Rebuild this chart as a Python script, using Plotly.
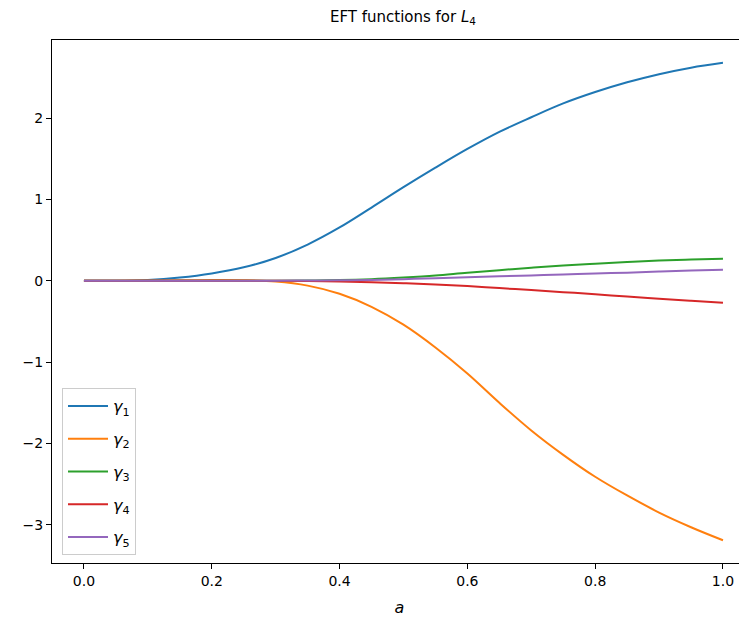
import plotly.graph_objects as go

a = [0.0, 0.05, 0.1, 0.15, 0.2, 0.25, 0.3, 0.35, 0.4, 0.45, 0.5,
     0.55, 0.6, 0.65, 0.7, 0.75, 0.8, 0.85, 0.9, 0.95, 1.0]
gamma1 = [0.0, 0.0, 0.01, 0.04, 0.09, 0.165, 0.28, 0.445, 0.655, 0.90, 1.15,
          1.39, 1.62, 1.83, 2.01, 2.18, 2.32, 2.44, 2.54, 2.62, 2.68]
gamma2 = [0.0, 0.0, 0.003, 0.006, 0.008, 0.006, -0.01, -0.06, -0.16, -0.32, -0.54,
          -0.82, -1.14, -1.50, -1.84, -2.14, -2.41, -2.64, -2.85, -3.03, -3.19]
gamma3 = [0.0, 0.0, 0.0, 0.0, 0.0, 0.0, 0.0, 0.003, 0.008, 0.02, 0.04,
          0.065, 0.10, 0.13, 0.16, 0.188, 0.21, 0.23, 0.248, 0.26, 0.27]
gamma4 = [0.0, 0.0, 0.0, 0.0, 0.0, 0.0, 0.0, -0.003, -0.008, -0.017, -0.03,
          -0.045, -0.065, -0.09, -0.115, -0.14, -0.165, -0.195, -0.22, -0.245, -0.27]
gamma5 = [0.0, 0.0, 0.0, 0.0, 0.0, 0.0, 0.0, 0.003, 0.006, 0.01, 0.02,
          0.03, 0.042, 0.055, 0.066, 0.077, 0.09, 0.10, 0.113, 0.125, 0.135]

series = [
    ("<i>γ</i><sub>1</sub>", gamma1, "#1f77b4"),
    ("<i>γ</i><sub>2</sub>", gamma2, "#ff7f0e"),
    ("<i>γ</i><sub>3</sub>", gamma3, "#2ca02c"),
    ("<i>γ</i><sub>4</sub>", gamma4, "#d62728"),
    ("<i>γ</i><sub>5</sub>", gamma5, "#9467bd"),
]

W, H = 739, 616
fig = go.Figure()
for i, (name, ys, col) in enumerate(series):
    fig.add_trace(go.Scatter(x=a, y=ys, mode="lines", name=name, legendgroup=f"g{i}",
                             line=dict(color=col, width=2, shape="spline", smoothing=1.0)))

fig.update_layout(
    width=W, height=H,
    margin=dict(l=44, r=0, t=32, b=61, autoexpand=False),
    paper_bgcolor="white", plot_bgcolor="white",
    font=dict(family="DejaVu Sans", size=14, color="black"),
    title=dict(text="EFT functions for <i>L</i><sub>4</sub>", x=395/W, xanchor="center",
               y=1 - 9/H, yanchor="middle", font=dict(size=15)),
    showlegend=True,
    legend=dict(x=10/695, y=8/523, xanchor="left", yanchor="bottom",
                bordercolor="#cccccc", borderwidth=1, bgcolor="rgba(255,255,255,0.8)",
                font=dict(size=16), itemwidth=40, tracegroupgap=9),
    xaxis=dict(range=[-0.05, 1.0376], tickmode="array",
               tickvals=[0.0, 0.2, 0.4, 0.6, 0.8, 1.0],
               ticktext=["0.0", "0.2", "0.4", "0.6", "0.8", "1.0"],
               showgrid=False, zeroline=False, showline=True, linecolor="black",
               linewidth=1, mirror=True, ticks="outside", ticklen=5, tickcolor="black",
               title=dict(text="<i>a</i>", standoff=14, font=dict(size=16))),
    yaxis=dict(range=[-3.47, 2.96], tickmode="array",
               tickvals=[-3, -2, -1, 0, 1, 2],
               ticktext=["−3", "−2", "−1", "0", "1", "2"],
               showgrid=False, zeroline=False, showline=True, linecolor="black",
               linewidth=1, ticks="outside", ticklen=5, tickcolor="black"),
)

fig.write_html("out.html")
